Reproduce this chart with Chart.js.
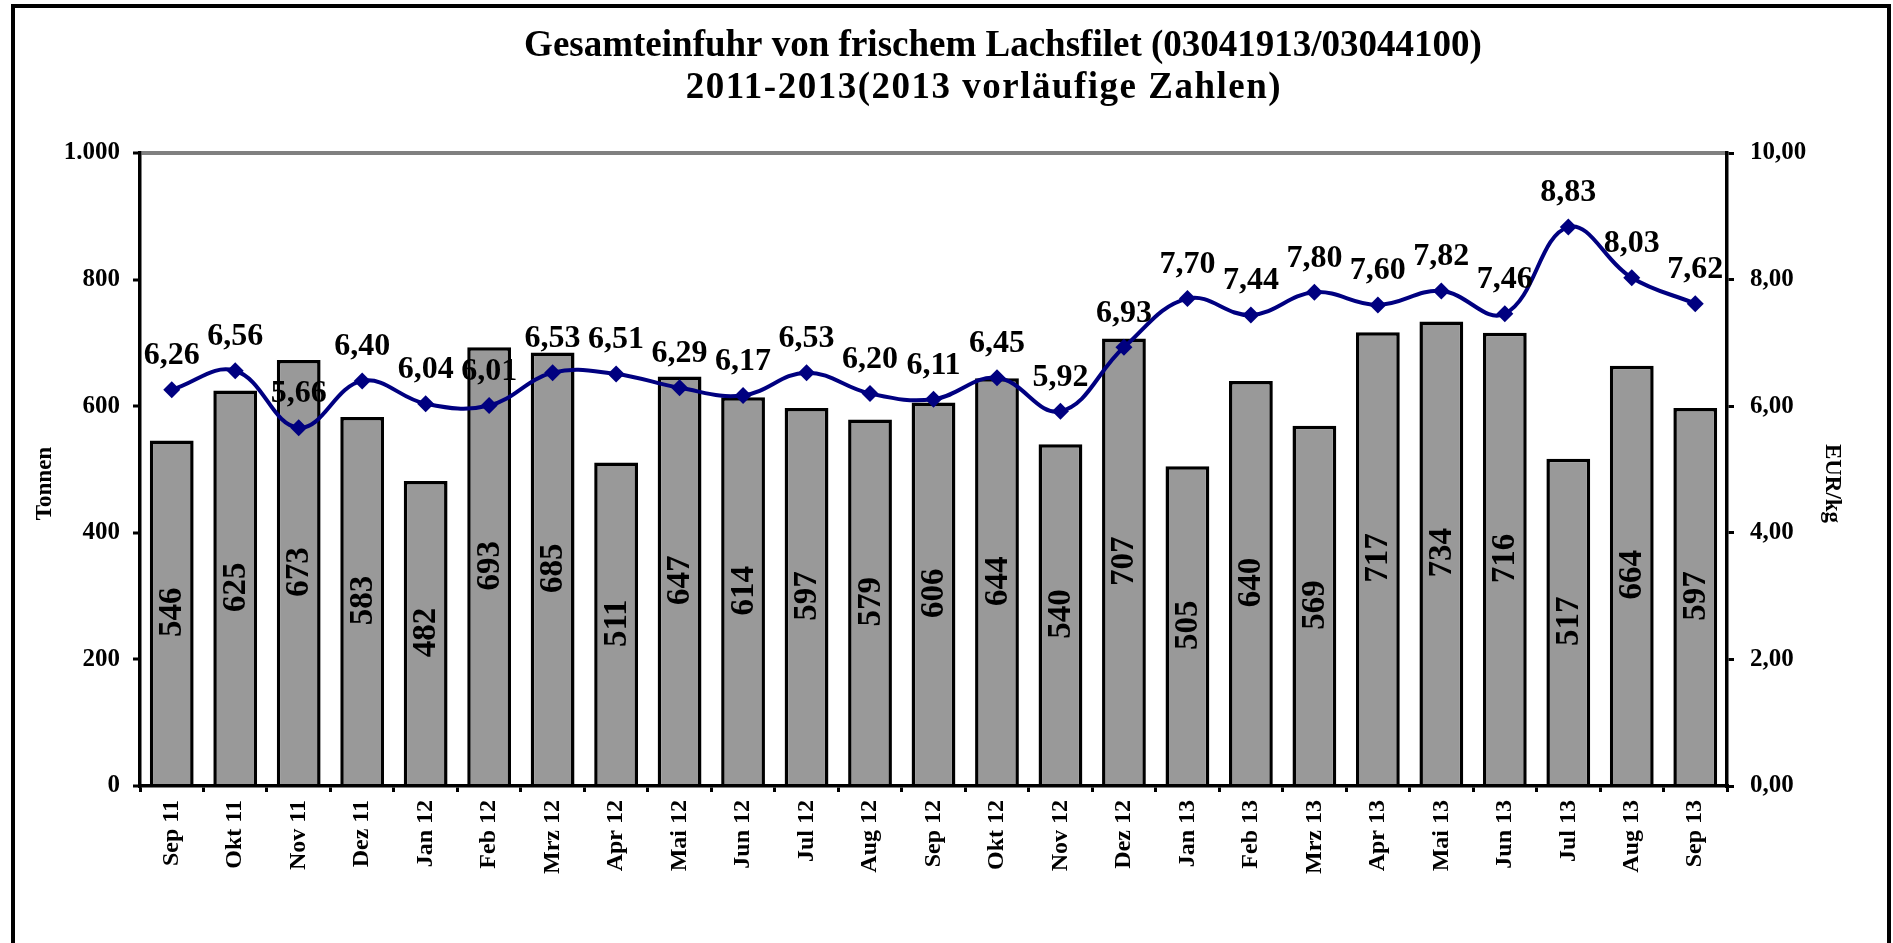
<!DOCTYPE html>
<html>
<head>
<meta charset="utf-8">
<script src="https://cdn.jsdelivr.net/npm/chart.js"></script>
<style>
  body { margin: 0; background: #fff; }
  #wrap { position: relative; width: 1893px; height: 943px; }
</style>
</head>
<body>
<div id="wrap"><canvas id="mycanvas" width="1893" height="943"></canvas></div>
<script>
var months = ['Sep 11','Okt 11','Nov 11','Dez 11','Jan 12','Feb 12','Mrz 12','Apr 12','Mai 12','Jun 12','Jul 12','Aug 12',
  'Sep 12','Okt 12','Nov 12','Dez 12','Jan 13','Feb 13','Mrz 13','Apr 13','Mai 13','Jun 13','Jul 13','Aug 13','Sep 13'];
var tonnen = [546,625,673,583,482,693,685,511,647,614,597,579,606,644,540,707,505,640,569,717,734,716,517,664,597];
var eurKg = [6.26,6.56,5.66,6.40,6.04,6.01,6.53,6.51,6.29,6.17,6.53,6.20,6.11,6.45,5.92,6.93,7.70,7.44,7.80,7.60,7.82,7.46,8.83,8.03,7.62];
var titleLines = ['Gesamteinfuhr von frischem Lachsfilet (03041913/03044100)', '2011-2013(2013 vorläufige Zahlen)'];
var leftTitle = 'Tonnen';
var rightTitle = 'EUR/kg';

var serif = 'Liberation Serif';

function fmtEur(v) { return v.toFixed(2).replace('.', ','); }

// frame round the whole chart, plus the titles
var framePlugin = {
  id: 'frame',
  beforeDraw: function(chart) {
    var ctx = chart.ctx;
    ctx.save();
    ctx.fillStyle = '#fff';
    ctx.fillRect(0, 0, chart.width, chart.height);
    ctx.strokeStyle = '#000';
    ctx.lineWidth = 4;
    ctx.strokeRect(13, 6, 1876, 1000);
    ctx.restore();
  },
  afterDraw: function(chart) {
    var ctx = chart.ctx;
    var area = chart.chartArea;
    var midY = (area.top + area.bottom) / 2;
    ctx.save();
    ctx.fillStyle = '#000';
    ctx.textAlign = 'center';
    ctx.textBaseline = 'middle';
    ctx.font = 'bold 37px "' + serif + '"';
    ctx.fillText(titleLines[0], 1003, 46);
    ctx.letterSpacing = '1.5px';
    ctx.fillText(titleLines[1], 984, 88);
    ctx.letterSpacing = '0px';

    ctx.font = 'bold 23px "' + serif + '"';
    ctx.save();
    ctx.translate(45, midY + 14);
    ctx.rotate(-Math.PI / 2);
    ctx.fillText(leftTitle, 0, 0);
    ctx.restore();
    ctx.save();
    ctx.translate(1832, midY + 14);
    ctx.rotate(Math.PI / 2);
    ctx.fillText(rightTitle, 0, 0);
    ctx.restore();
    ctx.restore();
  }
};

// value labels: inside the bars (rotated) and above the line points
var labelPlugin = {
  id: 'valueLabels',
  afterDatasetsDraw: function(chart) {
    var ctx = chart.ctx;
    ctx.save();
    ctx.fillStyle = '#000';
    ctx.font = 'bold 33px "' + serif + '"';
    ctx.textAlign = 'center';
    ctx.textBaseline = 'middle';

    var bars = chart.getDatasetMeta(0).data;
    bars.forEach(function(bar, i) {
      var cy = (bar.y + bar.base) / 2;
      ctx.save();
      ctx.translate(bar.x, cy);
      ctx.rotate(-Math.PI / 2);
      ctx.fillText(String(tonnen[i]), 0, 1);
      ctx.restore();
    });

    ctx.font = 'bold 32px "' + serif + '"';
    var pts = chart.getDatasetMeta(1).data;
    pts.forEach(function(p, i) {
      ctx.fillText(fmtEur(eurKg[i]), p.x, p.y - 34);
    });
    ctx.restore();
  }
};

var ctx = document.getElementById('mycanvas');

var chart = new Chart(ctx, {
  type: 'bar',
  data: {
    labels: months,
    datasets: [
      {
        type: 'bar',
        label: 'Tonnen',
        data: tonnen,
        yAxisID: 'y',
        backgroundColor: '#999999',
        borderColor: '#000',
        borderWidth: 3.5,
        barPercentage: 0.69,
        categoryPercentage: 1,
        order: 2
      },
      {
        type: 'line',
        label: 'EUR/kg',
        data: eurKg,
        yAxisID: 'y1',
        borderColor: '#000080',
        backgroundColor: '#000080',
        borderWidth: 4,
        tension: 0.4,
        pointStyle: 'rectRot',
        pointRadius: 8.5,
        pointBorderWidth: 0,
        order: 1
      }
    ]
  },
  options: {
    responsive: false,
    animation: false,
    devicePixelRatio: 1,
    layout: { padding: { top: 153, left: 0, right: 0, bottom: 0 } },
    plugins: {
      legend: { display: false },
      tooltip: { enabled: false },
      title: { display: false }
    },
    scales: {
      x: {
        offset: true,
        grid: { display: true, drawOnChartArea: false, color: '#000', lineWidth: 3, tickLength: 6, offset: true },
        border: { color: '#000', width: 3.5 },
        ticks: {
          color: '#000',
          font: { family: serif, size: 24, weight: 'bold' },
          minRotation: 90,
          maxRotation: 90,
          padding: 8,
          autoSkip: false
        },
        afterFit: function(s) { s.height = 157; }
      },
      y: {
        position: 'left',
        min: 0,
        max: 1000,
        ticks: {
          stepSize: 200,
          color: '#000',
          padding: 13,
          font: { family: serif, size: 25, weight: 'bold' },
          callback: function(v) { return v.toLocaleString('de-DE'); }
        },
        grid: {
          drawOnChartArea: true,
          lineWidth: 4,
          tickLength: 7,
          tickColor: '#000',
          tickWidth: 3,
          color: function(c) { return c.tick && c.tick.value === 1000 ? '#808080' : 'rgba(0,0,0,0)'; }
        },
        border: { color: '#000', width: 3.5 },
        afterFit: function(s) { s.width = 140; }
      },
      y1: {
        position: 'right',
        min: 0,
        max: 10,
        ticks: {
          stepSize: 2,
          color: '#000',
          padding: 16,
          font: { family: serif, size: 25, weight: 'bold' },
          callback: function(v) { return fmtEur(v); }
        },
        grid: { drawOnChartArea: false, color: '#000', lineWidth: 3, tickLength: 7 },
        border: { color: '#000', width: 3.5 },
        afterFit: function(s) { s.width = 166; }
      }
    }
  },
  plugins: [framePlugin, labelPlugin]
});
</script>
</body>
</html>
